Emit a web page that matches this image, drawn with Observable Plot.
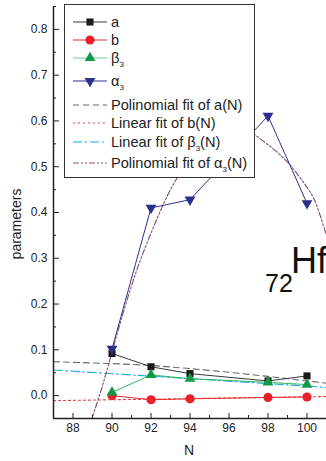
<!DOCTYPE html>
<html><head><meta charset="utf-8">
<script src="https://cdn.jsdelivr.net/npm/d3@7"></script>
<script src="https://cdn.jsdelivr.net/npm/@observablehq/plot@0.6"></script>
<style>
body{margin:0;background:#fff}
svg{font-family:"Liberation Sans",Arial,Helvetica,sans-serif}
</style>
</head><body><div id="chart"></div>
<script>
// ---- data ----
const N = [90, 92, 94, 98, 100];
const aVals = [0.092, 0.063, 0.048, 0.032, 0.043];
const bVals = [0.000, -0.009, -0.007, -0.004, -0.003];
const beta3Vals = [0.007, 0.045, 0.037, 0.029, 0.024];
const alpha3Vals = [0.102, 0.410, 0.428, 0.611, 0.420];

// fitted curves
const fitA_N = [87, 90, 92, 94, 96, 98, 100, 101];
const fitA_V = [0.074, 0.070, 0.066, 0.059, 0.051, 0.042, 0.032, 0.027];
const fitB_N = [87, 101];
const fitB_V = [-0.011, -0.002];
const fitBeta_N = [87, 101];
const fitBeta_V = [0.056, 0.018];
const fitAlpha_N = [88.9, 89.5, 90, 91, 92, 93, 94, 95, 96, 97, 98, 99, 100, 100.5, 101];
const fitAlpha_V = [-0.06, 0.02, 0.095, 0.24, 0.355, 0.45, 0.515, 0.56, 0.585, 0.578, 0.548, 0.51, 0.455, 0.415, 0.35];

const xMajor = [88, 90, 92, 94, 96, 98, 100];
const xMinor = [87, 89, 91, 93, 95, 97, 99, 101];
const yMajor = [0.0, 0.1, 0.2, 0.3, 0.4, 0.5, 0.6, 0.7, 0.8];
const yMinor = [-0.05, 0.05, 0.15, 0.25, 0.35, 0.45, 0.55, 0.65, 0.75, 0.85];

const legendLabels = ["a", "b", "β|3", "α|3", "Polinomial fit of a(N)", "Linear fit of b(N)", "Linear fit of β|3|(N)", "Polinomial fit of α|3|(N)"];

// ---- styles ----
const C = {
  aLine: "#3a3a3a", aMark: "#1a1a1a",
  bLine: "#e8262c", bMark: "#ea1f2a",
  betaLine: "#2fb35e", betaMark: "#0e9a48",
  alphaLine: "#2e3192", alphaMark: "#2b2e8c",
  fitA: "#6a6a6a", fitB: "#ee3a3a", fitBeta: "#1aa8e0", fitAlpha: "#8a4a6e"
};
const DASH = {fitA: "6,4", fitB: "2,3", fitBeta: "9,3,2,3", fitAlpha: "6,2,2,2,2,2"};

const pts = (xs, ys) => xs.map((x, i) => ({x, y: ys[i]}));
const A = pts(N, aVals), B = pts(N, bVals), BE = pts(N, beta3Vals), AL = pts(N, alpha3Vals);

const chart = Plot.plot({
  width: 326, height: 461,
  marginLeft: 53, marginRight: 0, marginTop: 6, marginBottom: 43,
  style: {fontFamily: "Liberation Sans, Arial, sans-serif", fontSize: "12px", background: "#fff", color: "#222"},
  x: {domain: [87, 101]},
  y: {domain: [-0.05, 0.85]},
  marks: [
    // fits
    Plot.line(pts(fitA_N, fitA_V), {x: "x", y: "y", stroke: C.fitA, strokeWidth: 1.1, strokeDasharray: DASH.fitA, clip: true}),
    Plot.line(pts(fitB_N, fitB_V), {x: "x", y: "y", stroke: C.fitB, strokeWidth: 1.1, strokeDasharray: DASH.fitB, clip: true}),
    Plot.line(pts(fitBeta_N, fitBeta_V), {x: "x", y: "y", stroke: C.fitBeta, strokeWidth: 1.1, strokeDasharray: DASH.fitBeta, clip: true}),
    Plot.line(pts(fitAlpha_N, fitAlpha_V), {x: "x", y: "y", stroke: C.fitAlpha, strokeWidth: 1.1, strokeDasharray: DASH.fitAlpha, curve: "natural", clip: true}),
    // data lines
    Plot.line(A, {x: "x", y: "y", stroke: C.aLine, strokeWidth: 1}),
    Plot.line(B, {x: "x", y: "y", stroke: C.bLine, strokeWidth: 1}),
    Plot.line(BE, {x: "x", y: "y", stroke: C.betaLine, strokeWidth: 1}),
    Plot.line(AL, {x: "x", y: "y", stroke: C.alphaLine, strokeWidth: 1}),
    // markers
    Plot.dot(A, {x: "x", y: "y", symbol: "square", r: 4, fill: C.aMark, stroke: null}),
    Plot.dot(B, {x: "x", y: "y", symbol: "circle", r: 4.6, fill: C.bMark, stroke: null}),
    Plot.dot(BE, {x: "x", y: "y", symbol: "triangle", r: 4, fill: C.betaMark, stroke: null}),
    Plot.dot(AL, {x: "x", y: "y", symbol: "triangle", r: 4, rotate: 180, fill: C.alphaMark, stroke: null}),
    // axes
    Plot.ruleX([87], {stroke: "#222", strokeWidth: 1.5}),
    Plot.ruleY([-0.05], {stroke: "#222", strokeWidth: 1.5}),
    Plot.axisX({ticks: xMajor, tickSize: -5, tickFormat: () => "", label: null}),
    Plot.axisX({ticks: xMinor, tickSize: -3, tickFormat: () => "", label: null}),
    Plot.axisX({ticks: xMajor, tickSize: 0, tickPadding: 5, tickFormat: d => String(d), label: null, fontSize: 12}),
    Plot.axisY({ticks: yMajor, tickSize: -6, tickFormat: () => "", label: null}),
    Plot.axisY({ticks: yMinor, tickSize: -3, tickFormat: () => "", label: null}),
    Plot.axisY({ticks: yMajor, tickSize: 0, tickPadding: 6, tickFormat: d3.format(".1f"), label: null, fontSize: 12})
  ]
});

document.getElementById("chart").appendChild(chart);

// ---- annotations and legend ----
const svg = d3.select(chart);
svg.append("text").attr("transform", "translate(21,224) rotate(-90)")
  .attr("text-anchor", "middle").attr("font-size", 14).attr("fill", "#222").text("parameters");
svg.append("text").attr("x", 189).attr("y", 455).attr("text-anchor", "middle")
  .attr("font-size", 14).attr("fill", "#222").text("N");

const hf = svg.append("text").attr("fill", "#111").attr("text-anchor", "start");
hf.append("tspan").attr("x", 265).attr("y", 292).attr("font-size", 25).text("72");
hf.append("tspan").attr("x", 291).attr("y", 273).attr("font-size", 36).text("Hf");

const lg = svg.append("g").attr("text-anchor", "start");
lg.append("rect").attr("x", 64.5).attr("y", 4.5).attr("width", 190).attr("height", 173)
  .attr("fill", "#fff").attr("stroke", "#333").attr("stroke-width", 1);
const rows = [
  {y: 22, line: C.aLine, mark: C.aMark, sym: d3.symbolSquare, r: 4},
  {y: 40, line: C.bLine, mark: C.bMark, sym: d3.symbolCircle, r: 4.6},
  {y: 58, line: "#6fcf95", mark: C.betaMark, sym: d3.symbolTriangle, r: 4},
  {y: 81, line: C.alphaLine, mark: C.alphaMark, sym: d3.symbolTriangle, r: 4, rot: 180},
  {y: 105, line: C.fitA, dash: DASH.fitA},
  {y: 123, line: C.fitB, dash: DASH.fitB},
  {y: 142, line: C.fitBeta, dash: DASH.fitBeta},
  {y: 163, line: C.fitAlpha, dash: DASH.fitAlpha}
];
rows.forEach((r, i) => {
  lg.append("line").attr("x1", 73).attr("x2", 107).attr("y1", r.y).attr("y2", r.y)
    .attr("stroke", r.line).attr("stroke-width", 1.1).attr("stroke-dasharray", r.dash || null);
  if (r.sym) {
    lg.append("path").attr("d", d3.symbol(r.sym, Math.PI * r.r * r.r)())
      .attr("transform", `translate(90,${r.y}) rotate(${r.rot || 0})`).attr("fill", r.mark);
  }
  const t = lg.append("text").attr("x", 111).attr("y", r.y + 5).attr("font-size", 14.6)
    .attr("fill", "#222").attr("text-anchor", "start");
  const parts = legendLabels[i].split("|");
  parts.forEach((p, j) => {
    const ts = t.append("tspan").text(p);
    if (j === 1) ts.attr("font-size", 8).attr("dy", 4);
    if (j === 2) ts.attr("dy", -4);
  });
});
</script>
</body></html>
